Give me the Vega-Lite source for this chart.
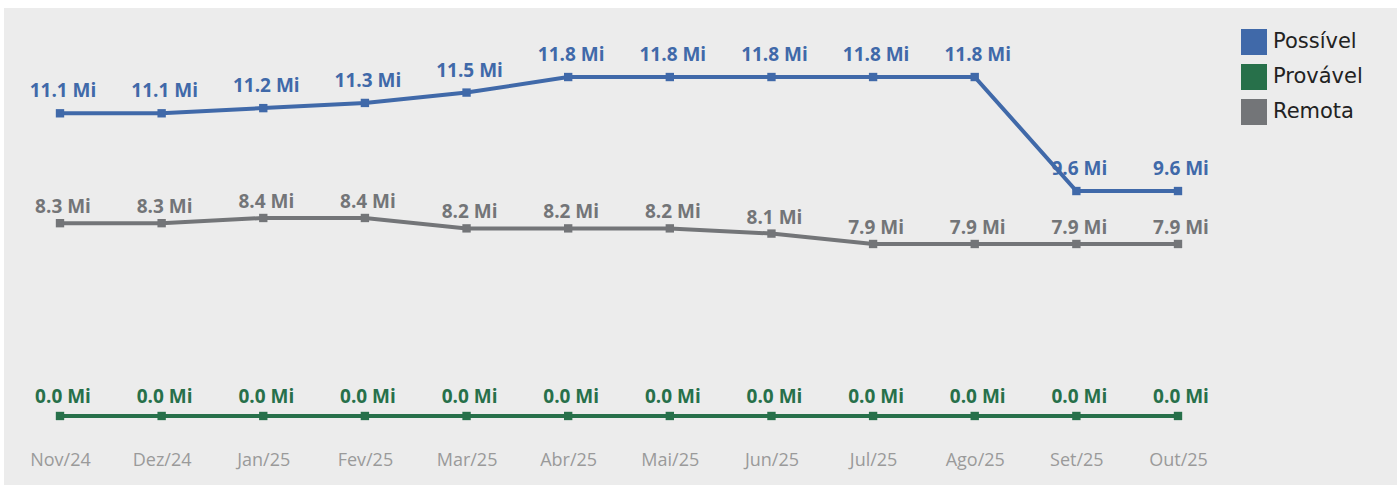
{
  "$schema": "https://vega.github.io/schema/vega-lite/v6.json",
  "width": 1393,
  "height": 477,
  "autosize": {"type": "none"},
  "padding": {"left": 4, "top": 8, "right": 0, "bottom": 0},
  "background": "white",
  "config": {
    "view": {"fill": "#ececec", "stroke": null},
    "font": "Open Sans",
    "legend": {
      "orient": "none",
      "legendX": 1237,
      "legendY": 21,
      "padding": 0,
      "title": null,
      "symbolType": "square",
      "symbolSize": 676,
      "symbolStrokeWidth": 0,
      "symbolOpacity": 1,
      "labelFontSize": 21,
      "labelColor": "#222222",
      "labelFont": "DejaVu Sans",
      "rowPadding": 9,
      "labelOffset": 6
    }
  },
  "datasets": {
    "d": [
      {"mes": "Nov/24", "serie": "Possível", "valor": 11.1},
      {"mes": "Dez/24", "serie": "Possível", "valor": 11.1},
      {"mes": "Jan/25", "serie": "Possível", "valor": 11.2},
      {"mes": "Fev/25", "serie": "Possível", "valor": 11.3},
      {"mes": "Mar/25", "serie": "Possível", "valor": 11.5},
      {"mes": "Abr/25", "serie": "Possível", "valor": 11.8},
      {"mes": "Mai/25", "serie": "Possível", "valor": 11.8},
      {"mes": "Jun/25", "serie": "Possível", "valor": 11.8},
      {"mes": "Jul/25", "serie": "Possível", "valor": 11.8},
      {"mes": "Ago/25", "serie": "Possível", "valor": 11.8},
      {"mes": "Set/25", "serie": "Possível", "valor": 9.6},
      {"mes": "Out/25", "serie": "Possível", "valor": 9.6},
      {"mes": "Nov/24", "serie": "Provável", "valor": 0.0},
      {"mes": "Dez/24", "serie": "Provável", "valor": 0.0},
      {"mes": "Jan/25", "serie": "Provável", "valor": 0.0},
      {"mes": "Fev/25", "serie": "Provável", "valor": 0.0},
      {"mes": "Mar/25", "serie": "Provável", "valor": 0.0},
      {"mes": "Abr/25", "serie": "Provável", "valor": 0.0},
      {"mes": "Mai/25", "serie": "Provável", "valor": 0.0},
      {"mes": "Jun/25", "serie": "Provável", "valor": 0.0},
      {"mes": "Jul/25", "serie": "Provável", "valor": 0.0},
      {"mes": "Ago/25", "serie": "Provável", "valor": 0.0},
      {"mes": "Set/25", "serie": "Provável", "valor": 0.0},
      {"mes": "Out/25", "serie": "Provável", "valor": 0.0},
      {"mes": "Nov/24", "serie": "Remota", "valor": 8.3},
      {"mes": "Dez/24", "serie": "Remota", "valor": 8.3},
      {"mes": "Jan/25", "serie": "Remota", "valor": 8.4},
      {"mes": "Fev/25", "serie": "Remota", "valor": 8.4},
      {"mes": "Mar/25", "serie": "Remota", "valor": 8.2},
      {"mes": "Abr/25", "serie": "Remota", "valor": 8.2},
      {"mes": "Mai/25", "serie": "Remota", "valor": 8.2},
      {"mes": "Jun/25", "serie": "Remota", "valor": 8.1},
      {"mes": "Jul/25", "serie": "Remota", "valor": 7.9},
      {"mes": "Ago/25", "serie": "Remota", "valor": 7.9},
      {"mes": "Set/25", "serie": "Remota", "valor": 7.9},
      {"mes": "Out/25", "serie": "Remota", "valor": 7.9}
    ]
  },
  "data": {"name": "d"},
  "transform": [
    {"calculate": "format(datum.valor, '.1f') + ' Mi'", "as": "rotulo"}
  ],
  "encoding": {
    "x": {
      "field": "mes",
      "type": "ordinal",
      "sort": null,
      "scale": {"type": "point", "padding": 0, "range": [56, 1174]},
      "axis": {
        "title": null,
        "orient": "bottom",
        "offset": -40,
        "domain": false,
        "ticks": false,
        "grid": false,
        "labelAngle": 0,
        "labelFontSize": 18,
        "labelColor": "#9a9a9a",
        "labelPadding": 6
      }
    },
    "color": {
      "field": "serie",
      "type": "nominal",
      "scale": {
        "domain": ["Possível", "Provável", "Remota"],
        "range": ["#4069a9", "#27704a", "#737578"]
      }
    }
  },
  "layer": [
    {
      "transform": [{"filter": "datum.serie === 'Possível'"}],
      "encoding": {
        "y": {"field": "valor", "type": "quantitative", "scale": {"domain": [3.927, 13.132], "nice": false, "zero": false}, "axis": null}
      },
      "layer": [
        {"mark": {"type": "line", "strokeWidth": 4}},
        {"mark": {"type": "point", "shape": "square", "filled": true, "size": 70, "opacity": 1}},
        {"mark": {"type": "text", "fontSize": 19, "fontWeight": "bold", "dy": -16, "dx": 3, "baseline": "alphabetic"}, "encoding": {"text": {"field": "rotulo"}}}
      ]
    },
    {
      "transform": [{"filter": "datum.serie === 'Remota'"}],
      "encoding": {
        "y": {"field": "valor", "type": "quantitative", "scale": {"domain": [3.265, 12.438], "nice": false, "zero": false}, "axis": null}
      },
      "layer": [
        {"mark": {"type": "line", "strokeWidth": 4}},
        {"mark": {"type": "point", "shape": "square", "filled": true, "size": 70, "opacity": 1}},
        {"mark": {"type": "text", "fontSize": 19, "fontWeight": "bold", "dy": -10, "dx": 3, "baseline": "alphabetic"}, "encoding": {"text": {"field": "rotulo"}}}
      ]
    },
    {
      "transform": [{"filter": "datum.serie === 'Provável'"}],
      "encoding": {
        "y": {"field": "valor", "type": "quantitative", "scale": {"domain": [-1.447, 8.553], "nice": false, "zero": false}, "axis": null}
      },
      "layer": [
        {"mark": {"type": "line", "strokeWidth": 4}},
        {"mark": {"type": "point", "shape": "square", "filled": true, "size": 70, "opacity": 1}},
        {"mark": {"type": "text", "fontSize": 19, "fontWeight": "bold", "dy": -13, "dx": 3, "baseline": "alphabetic"}, "encoding": {"text": {"field": "rotulo"}}}
      ]
    }
  ],
  "resolve": {"scale": {"y": "independent"}}
}
